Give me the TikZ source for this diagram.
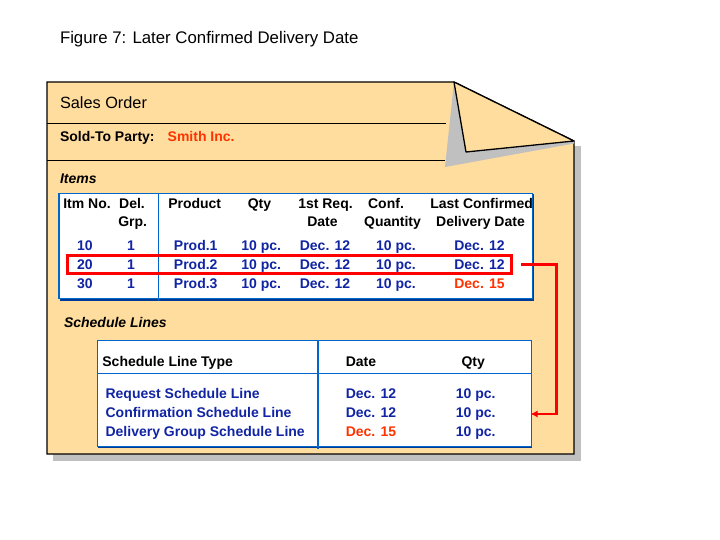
\documentclass[tikz,border=0pt]{standalone}
\usepackage{fontspec}
\setmainfont{Liberation Sans}
\usetikzlibrary{arrows.meta}
\definecolor{peach}{RGB}{255,221,158}
\definecolor{shadowgray}{RGB}{192,192,192}
\definecolor{txtblue}{RGB}{16,36,164}
\definecolor{txtred}{RGB}{255,51,0}
\definecolor{boxblue}{RGB}{0,102,204}
\definecolor{boxdark}{RGB}{0,60,150}
\begin{document}
\begin{tikzpicture}[x=1pt,y=-1pt,
  every node/.style={inner sep=0pt,outer sep=0pt},
  ttl/.style={font=\fontsize{16.8}{18}\selectfont,anchor=base west},
  hd/.style={font=\fontsize{16.3}{18}\selectfont,anchor=base west},
  lbl/.style={font=\fontsize{14}{16}\selectfont\bfseries,anchor=base west},
  ilbl/.style={font=\fontsize{14}{16}\selectfont\bfseries\itshape,anchor=base west},
  colh/.style={font=\fontsize{14}{16}\selectfont\bfseries,anchor=base},
  bval/.style={font=\fontsize{14}{16}\selectfont\bfseries,text=txtblue,anchor=base},
  rval/.style={font=\fontsize{14}{16}\selectfont\bfseries,text=txtred,anchor=base},
  bvalw/.style={font=\fontsize{14}{16}\selectfont\bfseries,text=txtblue,anchor=base west},
  rvalw/.style={font=\fontsize{14}{16}\selectfont\bfseries,text=txtred,anchor=base west},
  tbl/.style={draw=boxblue,line width=1.2pt,fill=white},
  sep/.style={draw=boxblue,line width=1.2pt},
  pageline/.style={draw=black,line width=1.3pt},
  hilite/.style={draw=red,line width=3pt},
  link/.style={draw=red,line width=2.4pt,-{Latex[length=7pt,width=7pt]}}
]
\useasboundingbox (0,0) rectangle (720,540);
\fill[white] (0,0) rectangle (720,540);

% title
\node[ttl] (title) at (60,44) {Figure 7: Later Confirmed Delivery Date};

% page shadow and page
\fill[shadowgray] (53,146) rectangle (581,461);
\filldraw[fill=peach,pageline,line join=miter] (47,82) -- (454,82) -- (574,141) -- (574,454) -- (47,454) -- cycle;
% folded corner
\fill[shadowgray] (454,82) -- (445,167) -- (574,143.5) -- (574,141) -- cycle;
\filldraw[fill=peach,pageline,line join=round] (454,82) -- (466,152) -- (574,141) -- cycle;
\draw[pageline] (47,123.3) -- (445.5,123.3);
\draw[pageline] (47,160.3) -- (445,160.3);

\node[hd] (so) at (60,109) {Sales Order};
\node[lbl] (stp) at (60,141.7) {Sold-To Party:};
\node[rvalw] (smith) at (167.7,141.7) {Smith Inc.};
\node[ilbl] (items) at (60,184) {Items};

% items table
\draw[boxdark,line width=1.8pt] (60,300) -- (533.5,300) -- (533.5,194.5);
\path[tbl] (59,193.5) rectangle (532.3,298.6);
\draw[sep] (158.3,193.5) -- (158.3,301);

\node[colh] (h1) at (87,209) {Itm No.};
\node[colh] (h2) at (132,209) {Del.};
\node[colh] (h2b) at (132.7,226) {Grp.};
\node[colh] (h3) at (194.7,209) {Product};
\node[colh] (h4) at (259.5,209) {Qty};
\node[colh] (h5) at (325.5,209) {1st Req.};
\node[colh] (h5b) at (322.5,226) {Date};
\node[colh] (h6) at (386,209) {Conf.};
\node[colh] (h6b) at (392.5,226) {Quantity};
\node[colh] (h7) at (481.7,209) {Last Confirmed};
\node[colh] (h7b) at (480.5,226) {Delivery Date};

\foreach \r/\y/\n in {1/250/10,2/269/20,3/288/30}{
  \node[bval] (i\r) at (85,\y) {\n};
  \node[bval] (d\r) at (131,\y) {1};
  \node[bval] (p\r) at (195.7,\y) {Prod.\r};
  \node[bval] (q\r) at (261.3,\y) {10 pc.};
  \node[bval] (r\r) at (325,\y) {Dec. 12};
  \node[bval] (c\r) at (396,\y) {10 pc.};
}
\node[bval] (l1) at (479.5,250) {Dec. 12};
\node[bval] (l2) at (479.5,269) {Dec. 12};
\node[rval] (l3) at (479.5,288) {Dec. 15};

% highlight
\draw[hilite] (67.7,255.5) rectangle (511.5,273);

% schedule lines
\node[ilbl] (sl) at (64,327.7) {Schedule Lines};
\draw[boxdark,line width=1.2pt] (98,447.8) -- (532,447.8);
\path[tbl] (97.7,340.7) rectangle (531.4,446.7);
\draw[sep] (97.7,373.3) -- (531.4,373.3);
\draw[sep] (318,340.7) -- (318,448.5);

\node[lbl] (st) at (102.4,366) {Schedule Line Type};
\node[lbl] (sd) at (345.8,366) {Date};
\node[lbl] (sq) at (461.6,366) {Qty};

\node[bvalw] (s1) at (105.6,398.3) {Request Schedule Line};
\node[bvalw] (s2) at (105.6,417.3) {Confirmation Schedule Line};
\node[bvalw] (s3) at (105.6,436.3) {Delivery Group Schedule Line};
\node[bvalw] (sd1) at (345.8,398.3) {Dec. 12};
\node[bvalw] (sd2) at (345.8,417.3) {Dec. 12};
\node[rvalw] (sd3) at (345.8,436.3) {Dec. 15};
\node[bvalw] (sq1) at (455.9,398.3) {10 pc.};
\node[bvalw] (sq2) at (455.9,417.3) {10 pc.};
\node[bvalw] (sq3) at (455.9,436.3) {10 pc.};

% connector
\coordinate (astart) at (521,264.5);
\coordinate (aturn1) at (556.5,264.5);
\coordinate (aturn2) at (556.5,414);
\coordinate (aend) at (530.5,414);
\draw[link] (astart) -- (aturn1) -- (aturn2) -- (aend);
\end{tikzpicture}
\end{document}
